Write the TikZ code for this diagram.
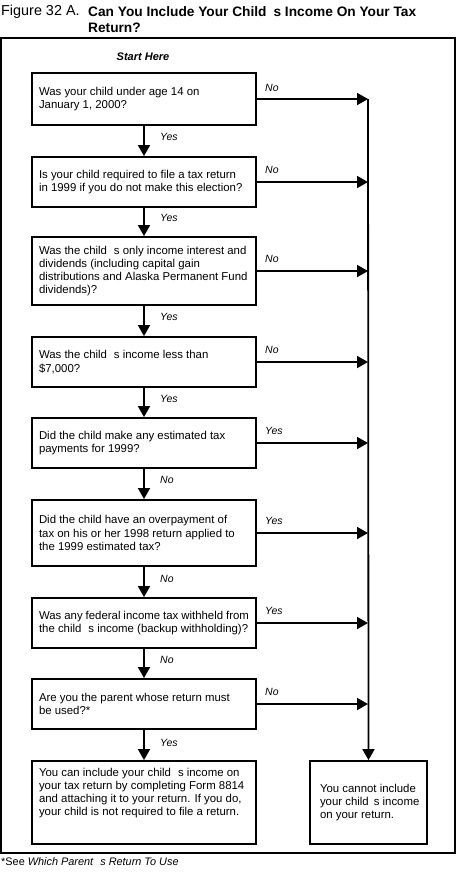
\documentclass[tikz,border=0pt]{standalone}
\usepackage{fontspec}
\setmainfont{Liberation Sans}
\usetikzlibrary{arrows.meta}
\newcommand{\apgap}{\hspace{7pt}}
\begin{document}
\begin{tikzpicture}[x=1pt,y=-1pt,
  qbox/.style={draw, line width=1.8pt, text width=210pt, inner xsep=7pt, inner ysep=0pt,
    align=flush left, font=\fontsize{11.4}{13.3}\selectfont},
  rbox/.style={draw, line width=1.8pt, text width=97pt, inner xsep=10pt, inner ysep=0pt,
    align=flush left, font=\fontsize{11.4}{13.3}\selectfont},
  conn/.style={line width=1.8pt, -{Triangle[length=11pt,width=12pt]}},
  lbl/.style={font=\fontsize{10.5}{12}\selectfont\itshape, inner sep=0pt, anchor=west},
  plain/.style={inner sep=0pt, anchor=west}]
\useasboundingbox (0,0) rectangle (458,883);
% title
\node[plain, font=\fontsize{14.4}{16}\selectfont] (t1) at (1,12) {Figure 32 A.};
\node[plain, font=\fontsize{13.7}{16}\selectfont\bfseries] (t2) at (88,12) {Can You Include Your Child\apgap s Income On Your Tax};
\node[plain, font=\fontsize{13.7}{16}\selectfont\bfseries] (t3) at (88,28) {Return?};
% frame
\draw[line width=1.8pt] (1,38) rectangle (455,853);
\node[inner sep=0pt, font=\fontsize{11}{13}\selectfont\bfseries\itshape] (start) at (143,57) {Start Here};
% question boxes
\node[qbox, minimum height=52pt] (q1) at (144,99) {Was your child under age 14 on\\January 1, 2000?};
\node[qbox, minimum height=50pt] (q2) at (144,182) {Is your child required to file a tax return\\in 1999 if you do not make this election?};
\node[qbox, minimum height=68pt] (q3) at (144,271) {Was the child\apgap s only income interest and\\dividends (including capital gain\\distributions and Alaska Permanent Fund\\dividends)?};
\node[qbox, minimum height=50pt] (q4) at (144,362) {Was the child\apgap s income less than\\\$7,000?};
\node[qbox, minimum height=50pt] (q5) at (144,443) {Did the child make any estimated tax\\payments for 1999?};
\node[qbox, minimum height=66pt] (q6) at (144,533) {Did the child have an overpayment of\\tax on his or her 1998 return applied to\\the 1999 estimated tax?};
\node[qbox, minimum height=50pt] (q7) at (144,623) {Was any federal income tax withheld from\\the child\apgap s income (backup withholding)?};
\node[qbox, minimum height=50pt] (q8) at (144,704) {Are you the parent whose return must\\be used?*};
\node[qbox, minimum height=83pt] (q9) at (144,802.5) {You can include your child\apgap s income on\\your tax return by completing Form 8814\\and attaching it to your return. If you do,\\your child is not required to file a return.\\[8pt]\mbox{}};
\node[rbox, minimum height=83pt] (nr) at (368.5,802.5) {You cannot include\\\mbox{your child\hspace{5pt}s income}\\on your return.};
% spine
\coordinate (spine) at (368,99);
\draw[conn] (spine) -- (nr.north);
% down arrows
\draw[conn] (q1) -- (q2);
\draw[conn] (q2) -- (q3);
\draw[conn] (q3) -- (q4);
\draw[conn] (q4) -- (q5);
\draw[conn] (q5) -- (q6);
\draw[conn] (q6) -- (q7);
\draw[conn] (q7) -- (q8);
\draw[conn] (q8) -- (q9);
% side arrows
\foreach \q in {q1,q2,q3,q4,q5,q6,q7,q8}
  \draw[conn] (\q.east) -- (\q.east -| spine);
% side labels
\node[lbl] (s1) at (265,88) {No};
\node[lbl] (s2) at (265,170) {No};
\node[lbl] (s3) at (265,259) {No};
\node[lbl] (s4) at (265,350) {No};
\node[lbl] (s5) at (265,431) {Yes};
\node[lbl] (s6) at (265,521) {Yes};
\node[lbl] (s7) at (265,611) {Yes};
\node[lbl] (s8) at (265,692) {No};
% down labels
\node[lbl] (d1) at (160,137) {Yes};
\node[lbl] (d2) at (160,218) {Yes};
\node[lbl] (d3) at (160,317) {Yes};
\node[lbl] (d4) at (160,399) {Yes};
\node[lbl] (d5) at (160,480) {No};
\node[lbl] (d6) at (160,579) {No};
\node[lbl] (d7) at (160,660) {No};
\node[lbl] (d8) at (160,743) {Yes};
% footnote
\node[plain, font=\fontsize{10.9}{12}\selectfont] (fn) at (1,862) {*See \textit{Which Parent\apgap s Return To Use}};
\end{tikzpicture}
\end{document}
